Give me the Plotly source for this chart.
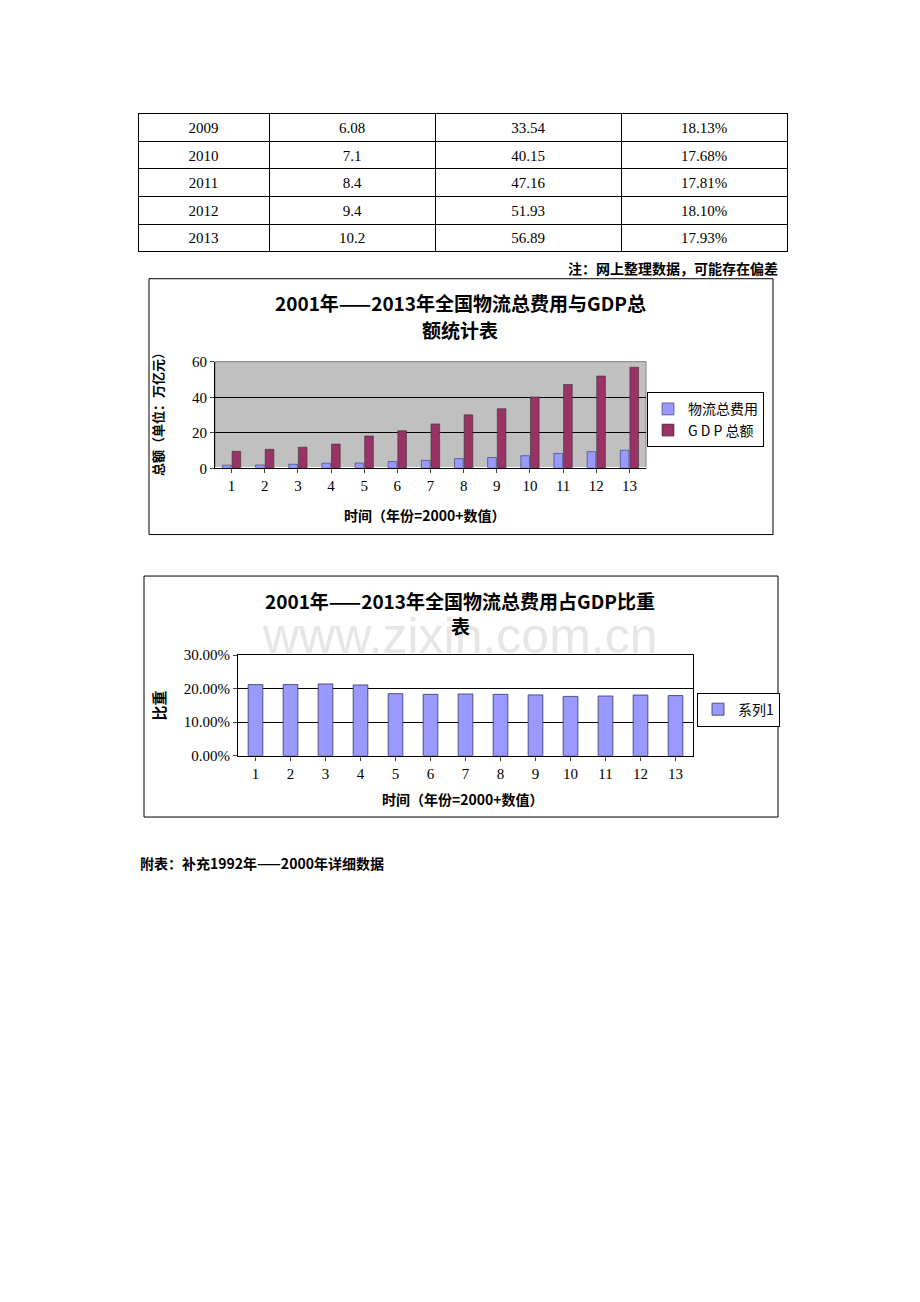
import plotly.graph_objects as go

# table data
years = ["2009", "2010", "2011", "2012", "2013"]
cost_tbl = ["6.08", "7.1", "8.4", "9.4", "10.2"]
gdp_tbl = ["33.54", "40.15", "47.16", "51.93", "56.89"]
ratio_tbl = ["18.13%", "17.68%", "17.81%", "18.10%", "17.93%"]

# chart data (year = 2000 + n)
nums = [str(i) for i in range(1, 14)]
cost = [1.8, 1.9, 2.3, 2.9, 3.0, 3.8, 4.5, 5.5, 6.08, 7.1, 8.4, 9.4, 10.2]
gdp = [9.6, 10.7, 11.9, 13.7, 18.2, 21.2, 25.0, 30.1, 33.54, 40.15, 47.16, 51.93, 56.89]
ratio = [21.2, 21.2, 21.4, 21.1, 18.5, 18.3, 18.4, 18.3, 18.13, 17.68, 17.81, 18.10, 17.93]

W, H = 920, 1302
OFF = 8  # page body margin
def px(x): return (x - OFF) / W
def py(y): return 1 - (y - OFF) / H

serif = "Liberation Serif, Noto Sans CJK SC"
cjk = "Noto Sans CJK SC"

fig = go.Figure()

fig.add_trace(go.Table(
    domain=dict(x=[px(138), px(787)], y=[py(255), py(107)]),
    columnwidth=[131, 166, 186, 166],
    header=dict(values=[years[0], cost_tbl[0], gdp_tbl[0], ratio_tbl[0]],
                height=27.6, fill_color="white", line_color="black",
                font=dict(family=serif, size=15, color="black")),
    cells=dict(values=[years[1:], cost_tbl[1:], gdp_tbl[1:], ratio_tbl[1:]],
               height=27.6, fill_color="white", line_color="black",
               font=dict(family=serif, size=15, color="black")),
))

fig.add_trace(go.Bar(x=nums, y=cost, name="物流总费用", marker=dict(color="#9999FF", line=dict(color="#333366", width=0.6)),
                     xaxis="x", yaxis="y", legend="legend"))
fig.add_trace(go.Bar(x=nums, y=gdp, name="G D P 总额", marker=dict(color="#993366", line=dict(color="#333333", width=0.6)),
                     xaxis="x", yaxis="y", legend="legend"))
fig.add_trace(go.Bar(x=nums, y=ratio, name="系列1", marker=dict(color="#9999FF", line=dict(color="#333366", width=0.8)),
                     xaxis="x2", yaxis="y2", legend="legend2", width=0.42))

tick = dict(family=serif, size=15, color="black")
fig.update_layout(
    width=W, height=H, margin=dict(l=0, r=0, t=0, b=0),
    paper_bgcolor="white", plot_bgcolor="white",
    barmode="group", bargap=0.42, bargroupgap=0.1,
    xaxis=dict(domain=[px(215), px(646)], anchor="y", tickfont=tick, showline=True, linecolor="black",
               ticks="outside", ticklen=4, showgrid=False, fixedrange=True),
    yaxis=dict(domain=[py(466), py(358)], anchor="x", range=[0, 60], dtick=20, tickfont=tick,
               showgrid=True, gridcolor="black", gridwidth=1, showline=True, linecolor="black",
               ticks="outside", ticklen=4),
    xaxis2=dict(domain=[px(238), px(693)], anchor="y2", tickfont=tick, showline=True, linecolor="black",
                ticks="outside", ticklen=4, showgrid=False, mirror=True),
    yaxis2=dict(domain=[py(757), py(655)], anchor="x2", range=[0, 30], dtick=10, tickfont=tick,
                ticksuffix=".00%", showgrid=True, gridcolor="black", gridwidth=1, showline=True,
                linecolor="black", mirror=True, ticks="outside", ticklen=4),
    legend=dict(x=px(647), y=py(389), xanchor="left", yanchor="top", bordercolor="black", borderwidth=1,
                font=dict(family=cjk, size=14, color="black"), tracegroupgap=0, bgcolor="white",
                itemwidth=30),
    legend2=dict(x=px(697), y=py(693), xanchor="left", yanchor="top", bordercolor="black", borderwidth=1,
                 font=dict(family=cjk, size=14, color="black"), bgcolor="white", itemwidth=30),
)

shapes = [
    dict(type="rect", xref="paper", yref="paper", x0=px(149), x1=px(773), y0=py(533), y1=py(274),
         line=dict(color="black", width=1)),
    dict(type="rect", xref="paper", yref="paper", x0=px(144), x1=px(778), y0=py(819), y1=py(575),
         line=dict(color="black", width=1)),
    dict(type="rect", xref="paper", yref="paper", x0=px(215), x1=px(646), y0=py(466), y1=py(358),
         fillcolor="#C0C0C0", line=dict(color="#808080", width=1), layer="below"),
]
fig.update_layout(shapes=shapes)

def ann(text, x, y, size, bold=False, family=cjk, xanchor="center", angle=0, color="black"):
    t = "<b>%s</b>" % text if bold else text
    fig.add_annotation(text=t, x=px(x), y=py(y), xref="paper", yref="paper", showarrow=False,
                       xanchor=xanchor, yanchor="middle", textangle=angle,
                       font=dict(family=family, size=size, color=color))

ann("www.zixin.com.cn", 460, 636, 50, family="Liberation Sans", color="#E6E6E6")
ann("注：网上整理数据，可能存在偏差", 780, 263, 14, bold=True, xanchor="right")
ann("2001年——2013年全国物流总费用与GDP总", 460, 298, 19, bold=True)
ann("额统计表", 460, 325, 19, bold=True)
ann("总额（单位：万亿元）", 157, 408, 13, bold=True, angle=-90)
ann("时间（年份=2000+数值）", 425, 513, 14, bold=True)
ann("2001年——2013年全国物流总费用占GDP比重", 460, 600, 19, bold=True)
ann("表", 460, 625, 19, bold=True)
ann("比重", 158, 706, 15, bold=True, angle=-90)
ann("时间（年份=2000+数值）", 463, 801, 14, bold=True)
ann("附表：补充1992年——2000年详细数据", 138, 866, 14, bold=True, xanchor="left")

fig.write_html("out.html")
